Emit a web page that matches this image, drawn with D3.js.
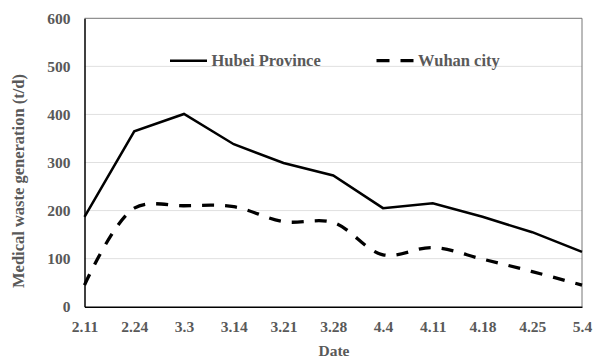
<!DOCTYPE html>
<html><head><meta charset="utf-8">
<script src="https://cdn.jsdelivr.net/npm/d3@7"></script>
<style>body{margin:0;background:#fff}svg{display:block}</style>
</head><body>
<svg id="c" width="595" height="358"></svg>
<script>
const dates = ["2.11","2.24","3.3","3.14","3.21","3.28","4.4","4.11","4.18","4.25","5.4"];
const hubei = [187,365,401,338,299,273,205,215,187,155,114];
const wuhan = [45,205,210,208,177,175,108,123,99,73,45];
const yTicks = [0,100,200,300,400,500,600];

const svg = d3.select("#c");
const L=84.5,R=582,T=18.3,B=306.7;
const font = "'Liberation Serif','Times New Roman',serif";
const grey = "#595959";
const x = d3.scalePoint().domain(dates).range([L,R]);
const y = d3.scaleLinear().domain([0,600]).range([B,T]);

// grid
svg.append("g").selectAll("line").data(yTicks.filter(d=>d>0&&d<600)).join("line")
 .attr("x1",L).attr("x2",R).attr("y1",d=>y(d)).attr("y2",d=>y(d))
 .attr("stroke","#e0e0e0").attr("stroke-width",1);
// border top/right
svg.append("path").attr("d",`M${L},${T}H${R}V${B}`).attr("fill","none").attr("stroke","#767676").attr("stroke-width",1);

// axes
const ya = svg.append("g").attr("transform",`translate(${L},0)`)
 .call(d3.axisLeft(y).tickValues(yTicks).tickSize(0).tickPadding(14));
ya.select(".domain").attr("stroke","#000").attr("stroke-width",1.5);
const xa = svg.append("g").attr("transform",`translate(0,${B})`)
 .call(d3.axisBottom(x).tickSize(0).tickPadding(14.5));
xa.select(".domain").attr("stroke","#000").attr("stroke-width",1.5);
svg.selectAll(".tick text").attr("font-family",font).attr("font-weight","bold")
 .attr("font-size",15.5).attr("fill",grey);

// lines
svg.append("path").datum(hubei).attr("fill","none").attr("stroke","#000").attr("stroke-width",2.5)
 .attr("d",d3.line().x((d,i)=>x(dates[i])).y(d=>y(d)));
svg.append("path").datum(wuhan).attr("fill","none").attr("stroke","#000").attr("stroke-width",3.3)
 .attr("stroke-dasharray","12,11")
 .attr("d",d3.line().x((d,i)=>x(dates[i])).y(d=>y(d)).curve(d3.curveCatmullRom.alpha(0.5)));

// legend
const lg = svg.append("g").attr("font-family",font).attr("font-weight","bold").attr("font-size",16.5).attr("fill",grey);
lg.append("line").attr("x1",170).attr("x2",207).attr("y1",60.7).attr("y2",60.7).attr("stroke","#000").attr("stroke-width",2.5);
lg.append("text").attr("x",211.5).attr("y",66).text("Hubei Province");
lg.append("line").attr("x1",376.5).attr("x2",415).attr("y1",60.7).attr("y2",60.7).attr("stroke","#000").attr("stroke-width",3.3).attr("stroke-dasharray","13,11");
lg.append("text").attr("x",418).attr("y",66).text("Wuhan city");

// axis titles
svg.append("text").attr("transform","translate(24,181) rotate(-90)").attr("text-anchor","middle")
 .attr("font-family",font).attr("font-weight","bold").attr("font-size",16.5).attr("fill",grey)
 .text("Medical waste generation (t/d)");
svg.append("text").attr("x",334).attr("y",356).attr("text-anchor","middle")
 .attr("font-family",font).attr("font-weight","bold").attr("font-size",15.5).attr("fill",grey).text("Date");
</script>
</body></html>
